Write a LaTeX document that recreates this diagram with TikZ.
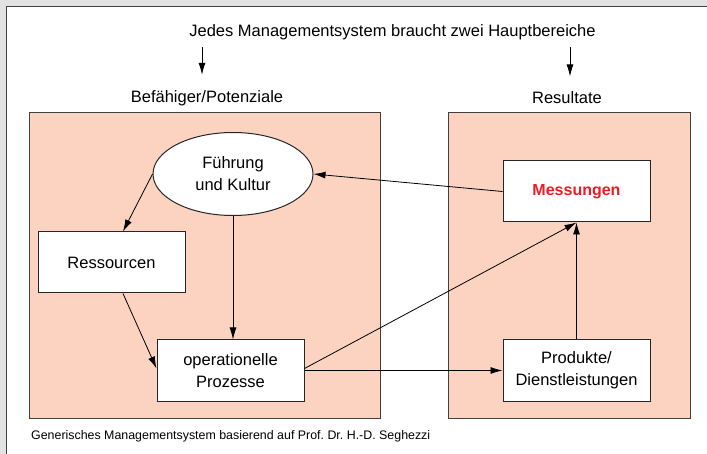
\documentclass[tikz,border=0pt]{standalone}
\usepackage{fontspec}
\setmainfont{Liberation Sans}
\usetikzlibrary{arrows.meta,positioning,shapes.geometric}
\definecolor{mPeach}{RGB}{252,211,193}
\definecolor{mRed}{RGB}{237,28,36}
\definecolor{mFrame}{RGB}{226,226,226}

\begin{document}
\begin{tikzpicture}[x=1pt, y=1pt,
    every node/.style={font=\fontsize{16.5}{22}\selectfont},
    area/.style={draw=black!75, fill=mPeach, line width=0.9pt, inner sep=0pt},
    box/.style={draw=black!85, fill=white, line width=1pt, align=center,
      minimum width=147pt, minimum height=61pt, inner sep=0pt},
    link/.style={-{Latex[length=12pt,width=7pt]}, line width=0.8pt}]
    \useasboundingbox (0,0) rectangle (707,-454);
    % screen frame
    \fill[mFrame] (0,0) rectangle (707,-454);
    \fill[white] (6,-6) rectangle (707,-454);
    \draw[black!75, line width=1.5pt] (6.5,-454) -- (6.5,-6.5) -- (707,-6.5);
    % headings
    \node (titel) at (392.5,-32) {Jedes Managementsystem braucht zwei Hauptbereiche};
    \node (befLabel) at (207,-98) {Befähiger/Potenziale};
    \node (resLabel) at (567,-98) {Resultate};
    \draw[link, shorten <=4pt, shorten >=12pt] ([xshift=-5pt]titel.south -| befLabel.north) -- ([xshift=-5pt]befLabel.north);
    \draw[link, shorten <=4pt, shorten >=12pt] ([xshift=3pt]titel.south -| resLabel.north) -- ([xshift=3pt]resLabel.north);
    % the two areas
    \node[area, minimum width=351pt, minimum height=306pt] (befaehiger) at (204.5,-265) {};
    \node[area, minimum width=242pt, minimum height=306pt] (resultate) at (569,-265) {};
    % nodes
    \node[ellipse, draw=black!85, fill=white, line width=1pt, align=center,
      minimum width=160pt, minimum height=83pt, inner sep=0pt] (fuehrung) at (233,-174) {Führung\\und Kultur};
    \node[box] (ressourcen) at (111.5,-262.5) {Ressourcen};
    \node[box] (prozesse) at (230.5,-370.5) {operationelle\\Prozesse};
    \node[box, right=198pt of prozesse] (produkte) {Produkte/\\Dienstleistungen};
    \node[box, above=117pt of produkte, font=\fontsize{16}{22}\selectfont\bfseries, text=mRed] (messungen) {Messungen};
    % connectors
    \draw[link] (fuehrung.west) -- ([xshift=11.5pt]ressourcen.north);
    \draw[link] ([xshift=11.5pt]ressourcen.south) -- ([yshift=2pt]prozesse.west);
    \draw[link] (fuehrung.south) -- (fuehrung.south |- prozesse.north);
    \draw[link] (messungen.west) -- (fuehrung.east);
    \draw[link] ([yshift=2pt]prozesse.east) -- (messungen.south);
    \draw[link] (prozesse.east) -- (produkte.west);
    \draw[link] (produkte.north) -- (messungen.south);
    % source
    \node[anchor=west, inner sep=0pt, font=\fontsize{12.4}{14}\selectfont\frenchspacing] (quelle) at (31,-436)
      {Generisches Managementsystem basierend auf Prof. Dr. H.-D. Seghezzi};
\end{tikzpicture}
\end{document}
